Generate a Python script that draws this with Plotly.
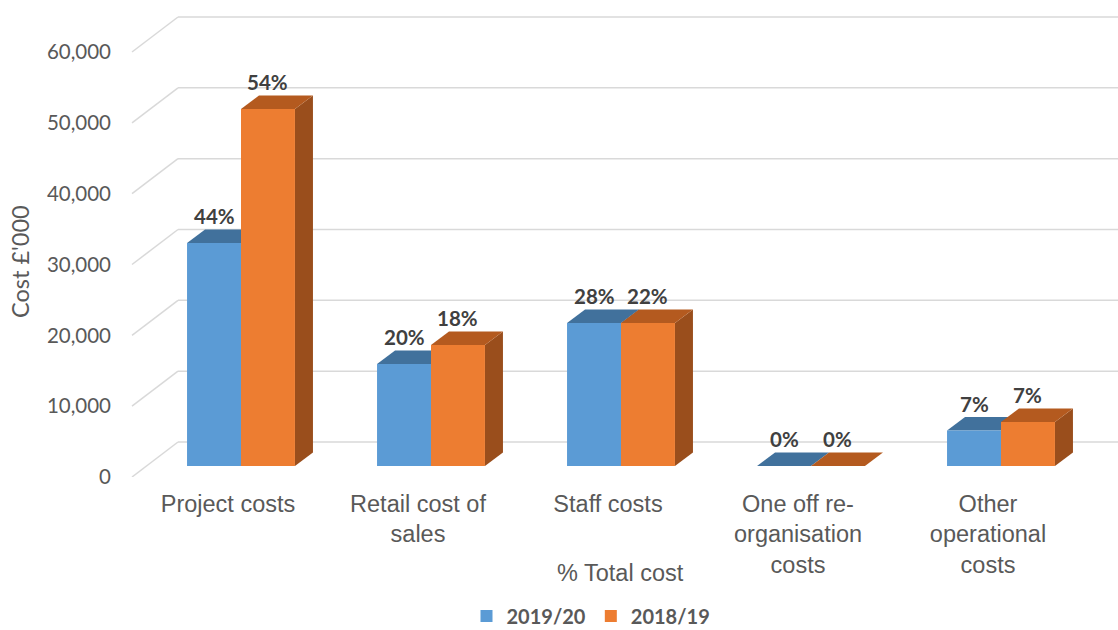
import plotly.graph_objects as go

categories = ["Project costs", "Retail cost of<br>sales", "Staff costs",
              "One off re-<br>organisation<br>costs", "Other<br>operational<br>costs"]
series_names = ["2019/20", "2018/19"]
values_2019 = [31500, 14400, 20200, 0, 5000]
values_2018 = [50400, 17100, 20200, 0, 6200]
labels_2019 = ["44%", "20%", "28%", "0%", "7%"]
labels_2018 = ["54%", "18%", "22%", "0%", "7%"]
y_ticks = [0, 10000, 20000, 30000, 40000, 50000, 60000]

front_colors = ["#5B9BD5", "#ED7D31"]
top_colors = ["#41719C", "#B45A1F"]
side_colors = ["#3A6690", "#9A4E1C"]

# layout geometry
W, H = 1118, 630
ML, MR, MT, MB = 132, 0, 10, 153
plot_w = W - ML - MR
plot_h = H - MT - MB
x_range = [-0.5737, 4.6158]
y_range = [-1553, 64380]
px_x = plot_w / (x_range[1] - x_range[0])
px_y = plot_h / (y_range[1] - y_range[0])
bargap = 0.432
bar_w = (1 - bargap) / 2
depth_dx, depth_dy = 18 / px_x, 13.5 / px_y  # oblique depth, in data units

fig = go.Figure()
xs = list(range(len(categories)))
for name, vals, col in zip(series_names, [values_2019, values_2018], front_colors):
    fig.add_trace(go.Bar(x=xs, y=vals, name=name, marker=dict(color=col, line=dict(width=0))))

shapes = []
# back wall gridlines + floor diagonals
for v in y_ticks:
    shapes.append(dict(type="line", layer="below", xref="paper", xsizemode="pixel", xanchor=0,
                       x0=0, x1=46, yref="y", ysizemode="pixel", yanchor=v, y0=-11, y1=24,
                       line=dict(color="#D9D9D9", width=1.5)))
    shapes.append(dict(type="line", layer="below", xref="paper", xsizemode="pixel", xanchor=0,
                       x0=46, x1=plot_w, yref="y", ysizemode="pixel", yanchor=v, y0=24, y1=24,
                       line=dict(color="#D9D9D9", width=1.5)))

# 3D faces for each bar
annotations = []
for s, (vals, labs) in enumerate([(values_2019, labels_2019), (values_2018, labels_2018)]):
    for i, v in enumerate(vals):
        x0 = i - bar_w + s * bar_w
        x1 = x0 + bar_w
        top = (f"M {x0},{v} L {x1},{v} L {x1 + depth_dx},{v + depth_dy} "
               f"L {x0 + depth_dx},{v + depth_dy} Z")
        side = (f"M {x1},0 L {x1},{v} L {x1 + depth_dx},{v + depth_dy} "
                f"L {x1 + depth_dx},{depth_dy} Z")
        shapes.append(dict(type="path", layer="below", xref="x", yref="y", path=side,
                           fillcolor=side_colors[s], line=dict(width=0)))
        shapes.append(dict(type="path", layer="below", xref="x", yref="y", path=top,
                           fillcolor=top_colors[s], line=dict(width=0)))
        annotations.append(dict(x=(x0 + x1) / 2, y=v, xref="x", yref="y", text=labs[i],
                                showarrow=False, yshift=27, yanchor="middle",
                                font=dict(family="Lato", size=20.5, color="#404040", weight="bold")))

annotations.append(dict(x=(620 - ML) / plot_w, y=-(573 - (H - MB)) / plot_h, xref="paper",
                        yref="paper", text="% Total cost", showarrow=False,
                        xanchor="center", yanchor="middle",
                        font=dict(family="Liberation Sans", size=23.5, color="#595959")))
annotations.append(dict(x=(20 - ML) / plot_w, y=((H - MB) - 262) / plot_h, xref="paper",
                        yref="paper", text="Cost £'000", showarrow=False, textangle=-90,
                        xanchor="center", yanchor="middle",
                        font=dict(family="Lato", size=23.5, color="#595959")))

fig.update_layout(
    width=W, height=H,
    margin=dict(l=ML, r=MR, t=MT, b=MB, autoexpand=False),
    paper_bgcolor="white", plot_bgcolor="white",
    barmode="group", bargap=bargap, bargroupgap=0,
    shapes=shapes, annotations=annotations,
    showlegend=True,
    legend=dict(orientation="h", x=(591 - ML) / plot_w, xanchor="center",
                y=-(616 - (H - MB)) / plot_h, yanchor="middle",
                font=dict(family="Lato", size=20, color="#595959", weight="bold"),
                itemwidth=30, traceorder="normal"),
    xaxis=dict(range=x_range, tickvals=xs, ticktext=categories, showgrid=False,
               zeroline=False, showline=False, ticks="", ticklabelshift=-13,
               ticklabelstandoff=10, automargin=False,
               tickfont=dict(family="Liberation Sans", size=23.5, color="#595959")),
    yaxis=dict(range=y_range, tickvals=y_ticks, tickformat=",d", showgrid=False,
               zeroline=False, showline=False, ticks="", ticklabelshift=11,
               ticklabelstandoff=20, automargin=False,
               tickfont=dict(family="Lato", size=20.5, color="#595959")),
)

fig.write_html("out.html", config={"displayModeBar": False},
               post_script="document.body.style.margin='0px';")
